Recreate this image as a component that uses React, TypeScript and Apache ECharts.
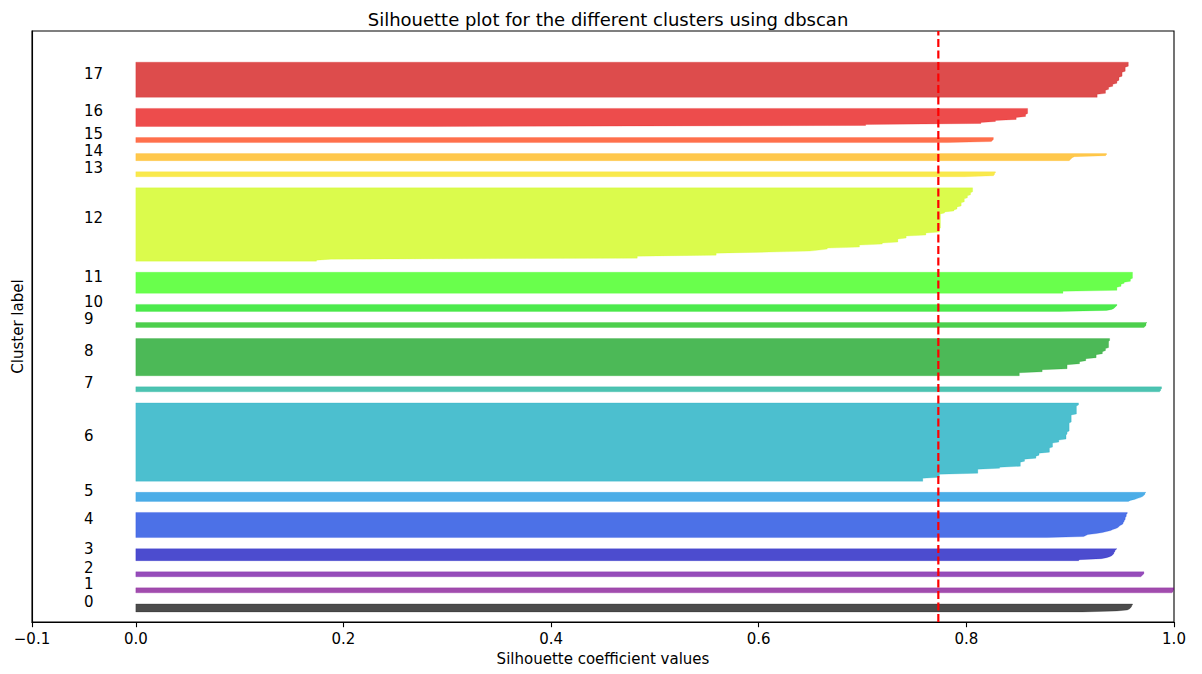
import React, { useEffect, useRef } from "react";
import * as echarts from "echarts";

// ---------- data ----------
const clusterLabels = ["0", "1", "2", "3", "4", "5", "6", "7", "8", "9", "10", "11", "12", "13", "14", "15", "16", "17"];

// Sorted silhouette values of every cluster, bottom to top, as [value, number of samples]
const cluster0: [number, number][] = [[0.912, 1], [0.945, 1], [0.955, 1], [0.957, 1], [0.958, 1], [0.959, 2], [0.96, 2]];
const cluster1: [number, number][] = [[0.998, 1], [0.999, 2], [1.0, 3]];
const cluster2: [number, number][] = [[0.968, 1], [0.969, 1], [0.97, 1], [0.971, 3]];
const cluster3: [number, number][] = [[0.908, 1], [0.909, 1], [0.93, 1], [0.935, 1], [0.938, 1], [0.94, 1], [0.941, 1], [0.942, 2], [0.943, 2], [0.944, 1], [0.945, 1]];
const cluster4: [number, number][] = [[0.878, 1], [0.913, 1], [0.915, 1], [0.917, 1], [0.925, 1], [0.931, 1], [0.935, 1], [0.939, 1], [0.941, 1], [0.944, 1], [0.946, 1], [0.947, 1], [0.948, 1], [0.95, 1], [0.951, 2], [0.952, 2], [0.953, 3], [0.954, 3], [0.955, 2]];
const cluster5: [number, number][] = [[0.956, 1], [0.958, 1], [0.962, 1], [0.965, 1], [0.968, 1], [0.97, 1], [0.971, 1], [0.972, 2], [0.973, 1]];
const cluster6: [number, number][] = [[0.758, 4], [0.774, 4], [0.811, 5], [0.832, 2], [0.852, 5], [0.856, 3], [0.867, 3], [0.87, 3], [0.88, 5], [0.883, 5], [0.889, 3], [0.896, 5], [0.897, 3], [0.899, 9], [0.901, 8], [0.906, 9], [0.908, 3]];
const cluster7: [number, number][] = [[0.986, 1], [0.987, 2], [0.988, 3]];
const cluster8: [number, number][] = [[0.851, 4], [0.873, 3], [0.897, 5], [0.909, 3], [0.915, 3], [0.925, 4], [0.931, 3], [0.934, 3], [0.937, 7], [0.938, 3]];
const cluster9: [number, number][] = [[0.971, 1], [0.972, 1], [0.973, 3], [0.974, 1]];
const cluster10: [number, number][] = [[0.89, 1], [0.935, 1], [0.94, 1], [0.942, 1], [0.943, 1], [0.944, 1], [0.945, 2]];
const cluster11: [number, number][] = [[0.893, 3], [0.945, 4], [0.949, 3], [0.952, 2], [0.958, 3], [0.96, 7]];
const cluster12: [number, number][] = [[0.174, 2], [0.188, 1], [0.483, 3], [0.559, 3], [0.61, 1], [0.649, 1], [0.658, 1], [0.666, 2], [0.697, 3], [0.719, 2], [0.734, 4], [0.742, 3], [0.761, 3], [0.774, 4], [0.775, 15], [0.779, 2], [0.788, 2], [0.791, 3], [0.795, 4], [0.798, 4], [0.801, 3], [0.804, 3], [0.806, 5]];
const cluster13: [number, number][] = [[0.798, 1], [0.826, 1], [0.827, 2], [0.828, 2]];
const cluster14: [number, number][] = [[0.899, 1], [0.9, 1], [0.901, 1], [0.902, 1], [0.904, 1], [0.934, 1], [0.935, 2]];
const cluster15: [number, number][] = [[0.782, 1], [0.824, 1], [0.825, 1], [0.826, 3]];
const cluster16: [number, number][] = [[0.286, 1], [0.703, 2], [0.814, 2], [0.828, 2], [0.848, 3], [0.857, 3], [0.859, 6]];
const cluster17: [number, number][] = [[0.926, 4], [0.934, 4], [0.937, 3], [0.941, 3], [0.945, 3], [0.947, 4], [0.95, 5], [0.953, 5], [0.956, 5]];

const clusterProfiles = [cluster0, cluster1, cluster2, cluster3, cluster4, cluster5, cluster6, cluster7, cluster8, cluster9, cluster10, cluster11, cluster12, cluster13, cluster14, cluster15, cluster16, cluster17];

const silhouetteAverage = 0.773;
const xTickValues = [-0.1, 0, 0.2, 0.4, 0.6, 0.8, 1.0];
const yAxisMax = 588;
const clusterGap = 10;

// ---------- styles ----------
// nipy_spectral colours for i / 18
const clusterColors: [number, number, number][] = [
  [0, 0, 0], [121, 0, 138], [106, 0, 157], [0, 0, 187], [0, 53, 221], [0, 138, 221],
  [0, 164, 187], [0, 170, 144], [0, 155, 15], [0, 187, 0], [0, 225, 0], [42, 255, 0],
  [204, 249, 0], [246, 223, 0], [255, 176, 0], [255, 51, 0], [229, 0, 0], [206, 0, 0],
];
const FONT = "DejaVu Sans";
const FS = 15;

function expandProfile(profile: [number, number][]): number[] {
  const out: number[] = [];
  for (const [v, c] of profile) for (let k = 0; k < c; k++) out.push(v);
  return out;
}

function fmtTick(v: number): string {
  const s = Math.abs(v).toFixed(1);
  return v < -1e-9 ? "\u2212" + s : s;
}

export default function App() {
  const ref = useRef<HTMLDivElement>(null);

  useEffect(() => {
    if (!ref.current) return;
    const chart = echarts.init(ref.current, null, { renderer: "svg" });

    const samples = clusterProfiles.map(expandProfile);
    const yLowers: number[] = [];
    let yl = clusterGap;
    samples.forEach((s) => {
      yLowers.push(yl);
      yl += s.length + clusterGap;
    });

    const option: any = {
      animation: false,
      backgroundColor: "#fff",
      title: {
        text: "Silhouette plot for the different clusters using dbscan",
        left: 603,
        top: 5,
        textAlign: "center",
        textStyle: { fontFamily: FONT, fontSize: 18, fontWeight: "normal", color: "#000" },
      },
      grid: {
        left: 32,
        right: 28,
        top: 31,
        bottom: 52,
        show: true,
        borderColor: "#000",
        borderWidth: 1.1,
        backgroundColor: "transparent",
      },
      xAxis: {
        type: "value",
        min: -0.1,
        max: 1.0,
        name: "Silhouette coefficient values",
        nameLocation: "middle",
        nameGap: 29,
        nameTextStyle: { fontFamily: FONT, fontSize: FS, color: "#000" },
        axisLine: { show: true, onZero: false, lineStyle: { color: "#000", width: 1.1 } },
        axisTick: { show: true, inside: false, length: 5.2, lineStyle: { color: "#000", width: 1.1 }, customValues: xTickValues },
        axisLabel: {
          show: true,
          customValues: xTickValues,
          formatter: (v: number) => fmtTick(v),
          color: "#000",
          fontFamily: FONT,
          fontSize: FS,
          margin: 9,
        },
        splitLine: { show: false },
      },
      yAxis: {
        type: "value",
        min: 0,
        max: yAxisMax,
        name: "Cluster label",
        nameLocation: "middle",
        nameRotate: 90,
        nameGap: 7,
        nameTextStyle: { fontFamily: FONT, fontSize: FS, color: "#000" },
        axisLine: { show: true, onZero: false, lineStyle: { color: "#000", width: 1.1 } },
        axisTick: { show: false },
        axisLabel: { show: false },
        splitLine: { show: false },
      },
      series: [
        {
          type: "custom",
          clip: true,
          data: samples.map((_, i) => [i]),
          renderItem: (_params: any, api: any) => {
            const i = api.value(0) as number;
            const vals = samples[i];
            const yL = yLowers[i];
            const pts: number[][] = [api.coord([0, yL])];
            vals.forEach((v, j) => pts.push(api.coord([v, yL + j])));
            pts.push(api.coord([0, yL + vals.length - 1]));
            const lp = api.coord([-0.05, yL + 0.5 * vals.length]);
            const [r, g, b] = clusterColors[i];
            return {
              type: "group",
              children: [
                {
                  type: "polygon",
                  shape: { points: pts },
                  style: { fill: `rgba(${r},${g},${b},0.7)`, stroke: `rgba(${r},${g},${b},0.35)`, lineWidth: 0.6 },
                },
                {
                  type: "text",
                  x: lp[0],
                  y: lp[1] - 5.5,
                  style: {
                    text: clusterLabels[i],
                    fill: "#000",
                    fontFamily: FONT,
                    fontSize: FS,
                    align: "left",
                    verticalAlign: "middle",
                  },
                },
              ],
            };
          },
        },
        {
          type: "line",
          data: [[silhouetteAverage, 0], [silhouetteAverage, yAxisMax]],
          symbol: "none",
          lineStyle: { color: "#ff0000", width: 2.2, type: [8, 3.5] },
          z: 5,
        },
      ],
    };

    chart.setOption(option);
    return () => chart.dispose();
  }, []);

  return <div ref={ref} style={{ position: "fixed", left: 0, top: 0, width: 1202, height: 674 }} />;
}
